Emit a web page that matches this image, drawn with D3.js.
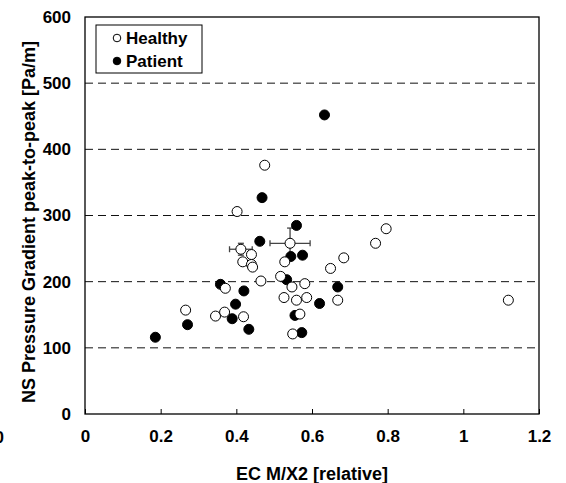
<!DOCTYPE html>
<html>
<head>
<meta charset="utf-8">
<script src="https://cdn.jsdelivr.net/npm/d3@7"></script>
<style>
  body { margin: 0; background: #fff; }
  svg text { font-family: "Liberation Sans", Arial, sans-serif; font-weight: bold; fill: #000; }
</style>
</head>
<body>
<div id="chart"></div>
<script>
// values
var healthyX = [0.475, 0.402, 0.440, 0.417, 0.440, 0.443, 0.528, 0.465, 0.517, 0.547, 0.581, 0.371,
                0.526, 0.559, 0.586, 0.568, 0.549, 0.266, 0.345, 0.369, 0.419, 0.649, 0.684, 0.668,
                0.768, 0.796, 1.119];
var healthyY = [376, 306, 241, 230, 226, 222, 230, 201, 208, 192, 197, 190,
                176, 172, 176, 151, 121, 157, 148, 154, 147, 220, 236, 172,
                258, 280, 172];

var patientX = [0.633, 0.468, 0.559, 0.462, 0.544, 0.575, 0.533, 0.358, 0.420, 0.668, 0.398, 0.620,
                0.389, 0.555, 0.433, 0.573, 0.271, 0.186];
var patientY = [452, 327, 285, 261, 238, 240, 203, 196, 186, 192, 166, 167,
                144, 149, 128, 123, 135, 116];

// group means with error bars
var meanX = [0.412, 0.542];
var meanY = [249, 258];
var meanErrX = [0.030, 0.053];
var meanErrY = [9, 23];

var xTicks = [0, 0.2, 0.4, 0.6, 0.8, 1, 1.2];
var yTicks = [0, 100, 200, 300, 400, 500, 600];
var gridValues = [100, 200, 300, 400, 500];

var width = 566, height = 483;
var margin = { left: 85, right: 27, top: 17, bottom: 69 };

var x = d3.scaleLinear().domain([0, 1.2]).range([margin.left, width - margin.right]);
var y = d3.scaleLinear().domain([0, 600]).range([height - margin.bottom, margin.top]);

var svg = d3.select("#chart").append("svg")
    .attr("width", width)
    .attr("height", height);

// dashed grid
svg.append("g").selectAll("line")
    .data(gridValues)
    .enter().append("line")
    .attr("x1", x(0)).attr("x2", x(1.2))
    .attr("y1", function(d) { return y(d); })
    .attr("y2", function(d) { return y(d); })
    .attr("stroke", "#111")
    .attr("stroke-width", 1)
    .attr("stroke-dasharray", "8,5");

// axes: inside ticks, labels drawn by the axis
var xAxis = svg.append("g")
    .attr("transform", "translate(0," + y(0) + ")")
    .call(d3.axisBottom(x).tickValues(xTicks).tickSizeInner(-5).tickSizeOuter(0).tickPadding(16)
        .tickFormat(function(d) { return d; }));
xAxis.select(".domain").remove();
xAxis.selectAll("line").attr("stroke", "#000");
xAxis.selectAll("text").style("font-size", "17px");

var yAxis = svg.append("g")
    .attr("transform", "translate(" + x(0) + ",0)")
    .call(d3.axisLeft(y).tickValues(yTicks).tickSize(0).tickPadding(14));
yAxis.select(".domain").remove();
yAxis.selectAll("text").style("font-size", "17px");

// frame
svg.append("rect")
    .attr("x", x(0)).attr("y", y(600))
    .attr("width", x(1.2) - x(0)).attr("height", y(0) - y(600))
    .attr("fill", "none")
    .attr("stroke", "#000")
    .attr("stroke-width", 1.3);

// cut-off label at the left edge of the picture
svg.append("text")
    .attr("x", 4).attr("y", 443)
    .attr("text-anchor", "end")
    .style("font-size", "17px")
    .text("0");

// axis titles
svg.append("text")
    .attr("x", (x(0) + x(1.2)) / 2).attr("y", 480)
    .attr("text-anchor", "middle")
    .style("font-size", "18px")
    .text("EC M/X2 [relative]");

svg.append("text")
    .attr("transform", "translate(35,222)rotate(-90)")
    .attr("text-anchor", "middle")
    .style("font-size", "18px")
    .text("NS Pressure Gradient peak-to-peak [Pa/m]");

// error bars
var err = svg.append("g").attr("stroke", "#444").attr("stroke-width", 1.3);
meanX.forEach(function(mx, i) {
    var my = meanY[i], ex = meanErrX[i], ey = meanErrY[i];
    err.append("line").attr("x1", x(mx - ex)).attr("x2", x(mx + ex)).attr("y1", y(my)).attr("y2", y(my));
    err.append("line").attr("x1", x(mx)).attr("x2", x(mx)).attr("y1", y(my - ey)).attr("y2", y(my + ey));
    err.append("line").attr("x1", x(mx - ex)).attr("x2", x(mx - ex)).attr("y1", y(my) - 3).attr("y2", y(my) + 3);
    err.append("line").attr("x1", x(mx + ex)).attr("x2", x(mx + ex)).attr("y1", y(my) - 3).attr("y2", y(my) + 3);
    err.append("line").attr("x1", x(mx) - 3).attr("x2", x(mx) + 3).attr("y1", y(my + ey)).attr("y2", y(my + ey));
    err.append("line").attr("x1", x(mx) - 3).attr("x2", x(mx) + 3).attr("y1", y(my - ey)).attr("y2", y(my - ey));
});

var r = 5;

svg.append("g").selectAll("circle")
    .data(patientX)
    .enter().append("circle")
    .attr("cx", function(d) { return x(d); })
    .attr("cy", function(d, i) { return y(patientY[i]); })
    .attr("r", r)
    .attr("fill", "#000")
    .attr("stroke", "#000");

svg.append("g").selectAll("circle")
    .data(healthyX.concat(meanX))
    .enter().append("circle")
    .attr("cx", function(d) { return x(d); })
    .attr("cy", function(d, i) { return y(healthyY.concat(meanY)[i]); })
    .attr("r", r)
    .attr("fill", "#fff")
    .attr("stroke", "#000")
    .attr("stroke-width", 1);

// legend
var legend = svg.append("g");
legend.append("rect")
    .attr("x", 96).attr("y", 25).attr("width", 106).attr("height", 48)
    .attr("fill", "#fff").attr("stroke", "#000").attr("stroke-width", 1);
legend.append("circle").attr("cx", 117).attr("cy", 38).attr("r", 3.8)
    .attr("fill", "#fff").attr("stroke", "#000");
legend.append("circle").attr("cx", 117).attr("cy", 61).attr("r", 3.8)
    .attr("fill", "#000").attr("stroke", "#000");
legend.append("text").attr("x", 126).attr("y", 44).style("font-size", "17px").text("Healthy");
legend.append("text").attr("x", 126).attr("y", 67).style("font-size", "17px").text("Patient");
</script>
</body>
</html>
